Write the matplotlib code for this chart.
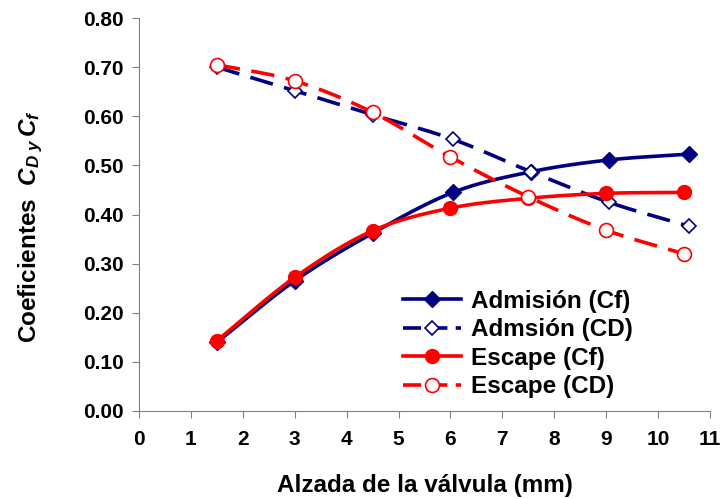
import numpy as np
import matplotlib.pyplot as plt

plt.rcParams['font.family'] = ['Liberation Sans', 'DejaVu Sans']
plt.rcParams['font.weight'] = 'bold'
plt.rcParams['mathtext.fontset'] = 'custom'
plt.rcParams['mathtext.it'] = 'Liberation Sans:italic:bold'
plt.rcParams['mathtext.rm'] = 'Liberation Sans:bold'

# datos
x_adm = [1.5, 3.0, 4.5, 6.05, 7.55, 9.05, 10.6]
adm_cf = [0.140, 0.265, 0.362, 0.445, 0.487, 0.511, 0.523]
adm_cd = [0.700, 0.652, 0.603, 0.553, 0.487, 0.425, 0.376]
x_esc = [1.5, 3.0, 4.5, 6.0, 7.5, 9.0, 10.5]
esc_cf = [0.143, 0.272, 0.367, 0.413, 0.433, 0.443, 0.445]
esc_cd = [0.705, 0.672, 0.608, 0.517, 0.436, 0.368, 0.320]

NAVY = '#000080'
RED = '#FF0000'


def suave(x, y, n=30):
    # curva suavizada tipo Excel (Catmull-Rom)
    x = np.asarray(x, float)
    y = np.asarray(y, float)
    px = np.concatenate([[2 * x[0] - x[1]], x, [2 * x[-1] - x[-2]]])
    py = np.concatenate([[2 * y[0] - y[1]], y, [2 * y[-1] - y[-2]]])
    xs, ys = [], []
    t = np.linspace(0, 1, n)
    for i in range(1, len(px) - 2):
        for p, out in ((px, xs), (py, ys)):
            p0, p1, p2, p3 = p[i - 1], p[i], p[i + 1], p[i + 2]
            out.extend(0.5 * (2 * p1 + (-p0 + p2) * t
                              + (2 * p0 - 5 * p1 + 4 * p2 - p3) * t ** 2
                              + (-p0 + 3 * p1 - 3 * p2 + p3) * t ** 3))
    return xs, ys


fig, ax = plt.subplots(figsize=(7.2, 4.99), dpi=100)
fig.subplots_adjust(left=139 / 720, right=710 / 720, bottom=88 / 499, top=481 / 499)

LW = 2.6
DASH = (6.5, 3.2)
series = [
    (x_adm, adm_cf, NAVY, '-', dict(marker='D', ms=8.5, mfc=NAVY, mec=NAVY), 'Admisión (Cf)'),
    (x_adm, adm_cd, NAVY, '--', dict(marker='D', ms=7.5, mfc='white', mec=NAVY, mew=1.2), 'Admsión (CD)'),
    (x_esc, esc_cf, RED, '-', dict(marker='o', ms=10, mfc=RED, mec=RED), 'Escape (Cf)'),
    (x_esc, esc_cd, RED, '--', dict(marker='o', ms=10, mfc='white', mec=RED, mew=1.2), 'Escape (CD)'),
]
handles = []
for xv, yv, c, ls, mk, lab in series:
    sx, sy = suave(xv, yv)
    ln, = ax.plot(sx, sy, color=c, lw=LW, ls=ls)
    if ls == '--':
        ln.set_dashes(DASH)
    ax.plot(xv, yv, ls='none', **mk)
    h, = ax.plot([], [], color=c, lw=LW, ls=ls, **mk)
    if ls == '--':
        h.set_dashes((5, 2.3))
    handles.append(h)

ax.set_xlim(0, 11)
ax.set_ylim(0, 0.8)
ax.set_xticks(range(0, 12))
ax.set_yticks(np.arange(0, 0.81, 0.1))
ax.set_yticklabels([f'{v:.2f}' for v in np.arange(0, 0.81, 0.1)])
ax.tick_params(labelsize=15, length=5, color='#808080')
ax.tick_params(axis='y', pad=6)
ax.tick_params(axis='x', pad=9)
for s in ['top', 'right']:
    ax.spines[s].set_visible(False)
for s in ['left', 'bottom']:
    ax.spines[s].set_color('#808080')

ax.set_xlabel('Alzada de la válvula (mm)', fontsize=17.5, fontweight='bold')
ax.set_ylabel(r'Coeficientes  $C_{D\ y}\,C_f$', fontsize=17.5, fontweight='bold')
ax.xaxis.set_label_coords(0.5, -0.16)
ax.yaxis.set_label_coords(-0.165, 0.47)

ax.legend(handles=handles, labels=[s[5] for s in series], loc='lower right',
          bbox_to_anchor=(0.865, 0.033), frameon=False, fontsize=17.5,
          borderaxespad=0, borderpad=0,
          handlelength=2.4, labelspacing=0.22, handletextpad=0.4)

plt.savefig('out.png', dpi=100)
